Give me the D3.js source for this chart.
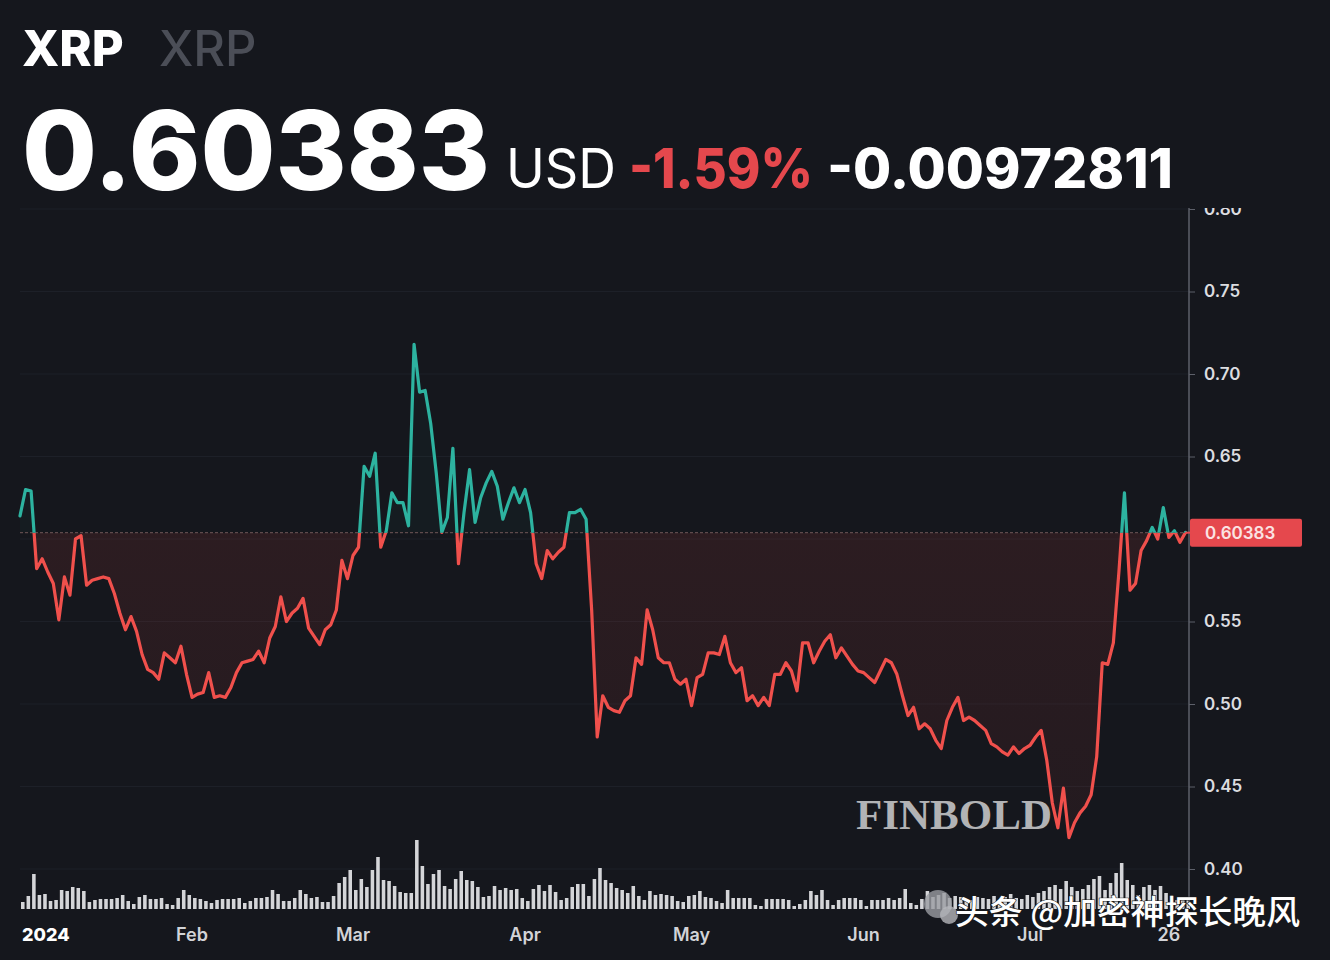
<!DOCTYPE html>
<html>
<head>
<meta charset="utf-8">
<script src="https://cdn.jsdelivr.net/npm/d3@7"></script>
<style>
  html, body { margin: 0; padding: 0; background: #15171d; }
  svg { display: block; }
</style>
</head>
<body>
<svg id="chart" width="1330" height="960"></svg>
<script>
// ---------------- data ----------------
const startDate = "2024-01-01";
const endDate = "2024-07-29";
const lastPrice = 0.60383;
const changePct = "-1.59%";
const changeAbs = "-0.00972811";

// daily closing price (USD), Jan 1 2024 onward
const prices = [
  0.614,0.630,0.629,0.582,0.588,0.580,0.573,0.551,0.577,0.566,
  0.600,0.602,0.572,0.575,0.576,0.577,0.576,0.567,0.555,0.545,
  0.553,0.544,0.530,0.521,0.519,0.515,0.531,0.528,0.525,0.535,
  0.518,0.504,0.506,0.507,0.519,0.504,0.505,0.504,0.510,0.519,
  0.525,0.526,0.527,0.532,0.525,0.540,0.547,0.565,0.550,0.555,
  0.558,0.564,0.546,0.541,0.536,0.545,0.548,0.557,0.587,0.576,
  0.590,0.595,0.644,0.638,0.652,0.595,0.605,0.628,0.622,0.622,
  0.608,0.718,0.689,0.690,0.670,0.640,0.604,0.613,0.655,0.585,
  0.616,0.642,0.610,0.625,0.634,0.641,0.632,0.612,0.622,0.631,
  0.622,0.630,0.616,0.585,0.576,0.593,0.588,0.592,0.595,0.616,
  0.616,0.618,0.612,0.557,0.480,0.505,0.498,0.496,0.495,0.502,
  0.505,0.528,0.524,0.557,0.545,0.528,0.525,0.525,0.515,0.512,
  0.515,0.499,0.516,0.518,0.531,0.531,0.530,0.541,0.525,0.519,
  0.522,0.502,0.505,0.499,0.504,0.499,0.518,0.518,0.525,0.520,
  0.508,0.537,0.537,0.525,0.532,0.538,0.542,0.528,0.534,0.529,
  0.524,0.520,0.519,0.516,0.513,0.520,0.527,0.525,0.518,0.505,
  0.493,0.498,0.485,0.488,0.485,0.478,0.473,0.490,0.498,0.504,
  0.490,0.492,0.490,0.487,0.484,0.476,0.474,0.471,0.469,0.474,
  0.470,0.473,0.475,0.480,0.484,0.466,0.440,0.425,0.449,0.419,
  0.428,0.434,0.438,0.445,0.468,0.525,0.524,0.537,0.580,0.628,
  0.569,0.573,0.593,0.599,0.607,0.600,0.619,0.601,0.605,0.598,
  0.604
];

// daily volume (relative units, millions)
const volumes = [
  70,130,350,140,150,80,90,190,180,220,
  210,180,70,90,100,100,100,110,140,80,
  50,120,140,100,100,110,50,40,110,190,
  140,110,100,80,60,90,100,100,100,110,
  60,80,110,110,120,190,150,80,80,110,
  190,150,110,120,70,70,130,260,320,390,
  190,300,220,390,520,290,280,230,170,160,
  160,690,430,250,350,390,230,200,300,380,
  290,280,220,120,130,230,190,210,190,200,
  110,80,200,240,180,240,170,90,110,220,
  250,250,130,300,410,290,260,210,190,160,
  230,130,90,180,140,150,140,130,80,70,
  130,140,180,120,110,80,60,190,110,110,
  110,110,40,30,100,100,100,100,90,30,
  50,90,180,140,190,90,40,90,110,110,
  110,90,30,90,90,90,110,90,110,200,
  60,40,100,180,120,140,160,110,130,120,
  100,90,120,110,100,130,90,120,150,110,
  100,140,120,160,180,220,240,200,280,220,
  180,200,240,300,330,190,260,360,460,290,
  240,140,220,240,190,230,160,130,90,110,
  100
];

const gridValues = [0.40, 0.45, 0.50, 0.55, 0.60, 0.65, 0.70, 0.75, 0.80];
// 0.60 is hidden behind the last-price badge in the reference
const yTicks = [0.40, 0.45, 0.50, 0.55, 0.65, 0.70, 0.75, 0.80];
const yTickLabels = ["0.40", "0.45", "0.50", "0.55", "0.65", "0.70", "0.75", "0.80"];
const xTickDates = ["2024-01-01", "2024-02-01", "2024-03-01", "2024-04-01", "2024-05-01", "2024-06-01", "2024-07-01", "2024-07-26"];
const xTickLabels = ["2024", "Feb", "Mar", "Apr", "May", "Jun", "Jul", "26"];

// ---------------- setup ----------------
const parse = d3.utcParse("%Y-%m-%d");
const t0 = parse(startDate);
const series = prices.map((v, i) => ({ date: d3.utcDay.offset(t0, i), value: v, vol: volumes[i] }));

const svg = d3.select("#chart");
const W = 1330, H = 960;
const bg = "#15171d";
const red = "#f0504c";
const teal = "#2db3a0";

svg.append("rect").attr("width", W).attr("height", H).attr("fill", bg);

const plotLeft = 20, plotRight = 1189, plotBottom = 909;

const x = d3.scaleUtc().domain([t0, parse(endDate)]).range([20, 1185.5]);
const y = d3.scaleLinear().domain([0.40, 0.80]).range([869, 209]);
const vScale = d3.scaleLinear().domain([0, d3.max(volumes)]).range([0, 69]);
const yRef = y(lastPrice);

const defs = svg.append("defs");
defs.append("clipPath").attr("id", "clipAbove").append("rect")
  .attr("x", 0).attr("y", 0).attr("width", plotRight).attr("height", yRef);
defs.append("clipPath").attr("id", "clipBelow").append("rect")
  .attr("x", 0).attr("y", yRef).attr("width", plotRight).attr("height", H - yRef);
defs.append("clipPath").attr("id", "clipAxis").append("rect")
  .attr("x", 0).attr("y", 208).attr("width", W).attr("height", H - 208);

const gradRed = defs.append("linearGradient").attr("id", "gradRed")
  .attr("gradientUnits", "userSpaceOnUse")
  .attr("x1", 0).attr("x2", 0).attr("y1", yRef).attr("y2", y(0.42));
gradRed.append("stop").attr("offset", "0%").attr("stop-color", "#c8403c").attr("stop-opacity", 0.13);
gradRed.append("stop").attr("offset", "100%").attr("stop-color", "#c8403c").attr("stop-opacity", 0.08);

// ---------------- header ----------------
const head = svg.append("g").attr("font-family", "Inter, 'Noto Sans', sans-serif");
head.append("text").attr("x", 22).attr("y", 66).attr("font-size", 49).attr("font-weight", 800)
  .attr("fill", "#ffffff").text("XRP");
head.append("text").attr("x", 159).attr("y", 66).attr("font-size", 49).attr("font-weight", 500)
  .attr("fill", "#4b4e57").text("XRP");
head.append("text").attr("x", 22).attr("y", 190).attr("font-size", 110).attr("font-weight", 800)
  .attr("fill", "#ffffff").attr("textLength", 468).attr("lengthAdjust", "spacingAndGlyphs")
  .text(lastPrice.toFixed(5));
head.append("text").attr("x", 506).attr("y", 188).attr("font-size", 55).attr("font-weight", 400)
  .attr("fill", "#ffffff").attr("textLength", 110).attr("lengthAdjust", "spacingAndGlyphs").text("USD");
head.append("text").attr("x", 629).attr("y", 188).attr("font-size", 55).attr("font-weight", 800)
  .attr("fill", "#e5484d").attr("textLength", 184).attr("lengthAdjust", "spacingAndGlyphs").text(changePct);
head.append("text").attr("x", 827).attr("y", 188).attr("font-size", 55).attr("font-weight", 800)
  .attr("fill", "#ffffff").attr("textLength", 346).attr("lengthAdjust", "spacingAndGlyphs").text(changeAbs);

// ---------------- grid ----------------
svg.append("g").selectAll("line").data(gridValues).join("line")
  .attr("x1", plotLeft).attr("x2", plotRight)
  .attr("y1", d => y(d)).attr("y2", d => y(d))
  .attr("stroke", "#1d2028").attr("stroke-width", 1);

// ---------------- volume ----------------
const step = x(d3.utcDay.offset(t0, 1)) - x(t0);
svg.append("g").selectAll("rect").data(series).join("rect")
  .attr("x", d => x(d.date) + 1)
  .attr("width", step * 0.64)
  .attr("y", d => plotBottom - vScale(d.vol))
  .attr("height", d => vScale(d.vol))
  .attr("fill", "#dedfe3").attr("opacity", 0.95);

// ---------------- areas ----------------
const area = d3.area().x(d => x(d.date)).y0(yRef).y1(d => y(d.value));
svg.append("path").datum(series).attr("d", area)
  .attr("fill", "url(#gradRed)").attr("clip-path", "url(#clipBelow)");
svg.append("path").datum(series).attr("d", area)
  .attr("fill", teal).attr("fill-opacity", 0.03).attr("clip-path", "url(#clipAbove)");

// reference line
svg.append("line").attr("x1", plotLeft).attr("x2", plotRight)
  .attr("y1", yRef).attr("y2", yRef)
  .attr("stroke", "#5e4a4c").attr("stroke-width", 1.2).attr("stroke-dasharray", "3,2");

// ---------------- price line ----------------
const line = d3.line().x(d => x(d.date)).y(d => y(d.value));
svg.append("path").datum(series).attr("d", line)
  .attr("fill", "none").attr("stroke", red).attr("stroke-width", 3.2)
  .attr("stroke-linejoin", "round").attr("stroke-linecap", "round")
  .attr("clip-path", "url(#clipBelow)");
svg.append("path").datum(series).attr("d", line)
  .attr("fill", "none").attr("stroke", teal).attr("stroke-width", 3.2)
  .attr("stroke-linejoin", "round").attr("stroke-linecap", "round")
  .attr("clip-path", "url(#clipAbove)");

// ---------------- watermark FINBOLD ----------------
svg.append("text").attr("x", 856).attr("y", 829)
  .attr("font-family", "'Liberation Serif', 'DejaVu Serif', serif").attr("font-weight", 700)
  .attr("font-size", 42).attr("fill", "#c4c4c6").attr("opacity", 0.9)
  .attr("textLength", 196).attr("lengthAdjust", "spacingAndGlyphs").text("FINBOLD");

// ---------------- y axis ----------------
const yAxisG = svg.append("g").attr("clip-path", "url(#clipAxis)");
yAxisG.append("line").attr("x1", plotRight).attr("x2", plotRight)
  .attr("y1", 200).attr("y2", 906).attr("stroke", "#5d606a").attr("stroke-width", 1.5);
const axisRight = d3.axisRight(y).tickValues(yTicks)
  .tickFormat((d, i) => yTickLabels[i]).tickSize(6).tickPadding(9);
const ya = yAxisG.append("g").attr("transform", `translate(${plotRight},0)`).call(axisRight);
ya.select(".domain").remove();
ya.selectAll(".tick line").attr("stroke", "#5d606a");
ya.selectAll(".tick text").attr("fill", "#dcdde0").attr("font-size", 17).attr("font-weight", 600)
  .attr("font-family", "Inter, 'Noto Sans', sans-serif");

// last price label
const lbl = svg.append("g");
lbl.append("line").attr("x1", plotRight - 4).attr("x2", plotRight + 6).attr("y1", yRef).attr("y2", yRef)
  .attr("stroke", "#e5484d").attr("stroke-width", 2);
lbl.append("rect").attr("x", plotRight + 1).attr("y", yRef - 14).attr("width", 112).attr("height", 28)
  .attr("rx", 2).attr("fill", "#e5484d");
lbl.append("text").attr("x", plotRight + 16).attr("y", yRef).attr("dy", "0.35em")
  .attr("font-family", "Inter, 'Noto Sans', sans-serif").attr("font-size", 17).attr("font-weight", 600)
  .attr("fill", "#fbe3e3").text(lastPrice.toFixed(5));

// ---------------- x axis ----------------
const xg = svg.append("g").attr("font-family", "Inter, 'Noto Sans', sans-serif");
xg.selectAll("text").data(xTickDates).join("text")
  .attr("x", (d, i) => i === 0 ? 22 : x(parse(d)))
  .attr("y", 935).attr("dy", "0.35em")
  .attr("text-anchor", (d, i) => i === 0 ? "start" : "middle")
  .attr("font-size", 18).attr("font-weight", (d, i) => i === 0 ? 800 : 600)
  .attr("fill", (d, i) => i === 0 ? "#ffffff" : "#d2d3d7")
  .text((d, i) => xTickLabels[i]);

// ---------------- watermark (toutiao) ----------------
const wm = svg.append("g");
wm.append("circle").attr("cx", 938).attr("cy", 904).attr("r", 14).attr("fill", "#9a9ca2").attr("opacity", 0.8);
wm.append("circle").attr("cx", 949).attr("cy", 915).attr("r", 9).attr("fill", "#b5b7bc").attr("opacity", 0.8);
wm.append("text").attr("x", 955).attr("y", 924)
  .attr("font-family", "'Noto Sans CJK SC', sans-serif").attr("font-size", 33).attr("font-weight", 500)
  .attr("fill", "#ffffff").attr("stroke", "#1a1a1a").attr("stroke-width", 1.2)
  .attr("paint-order", "stroke")
  .attr("textLength", 345).attr("lengthAdjust", "spacingAndGlyphs")
  .text("头条 @加密神探长晚风");
</script>
</body>
</html>
